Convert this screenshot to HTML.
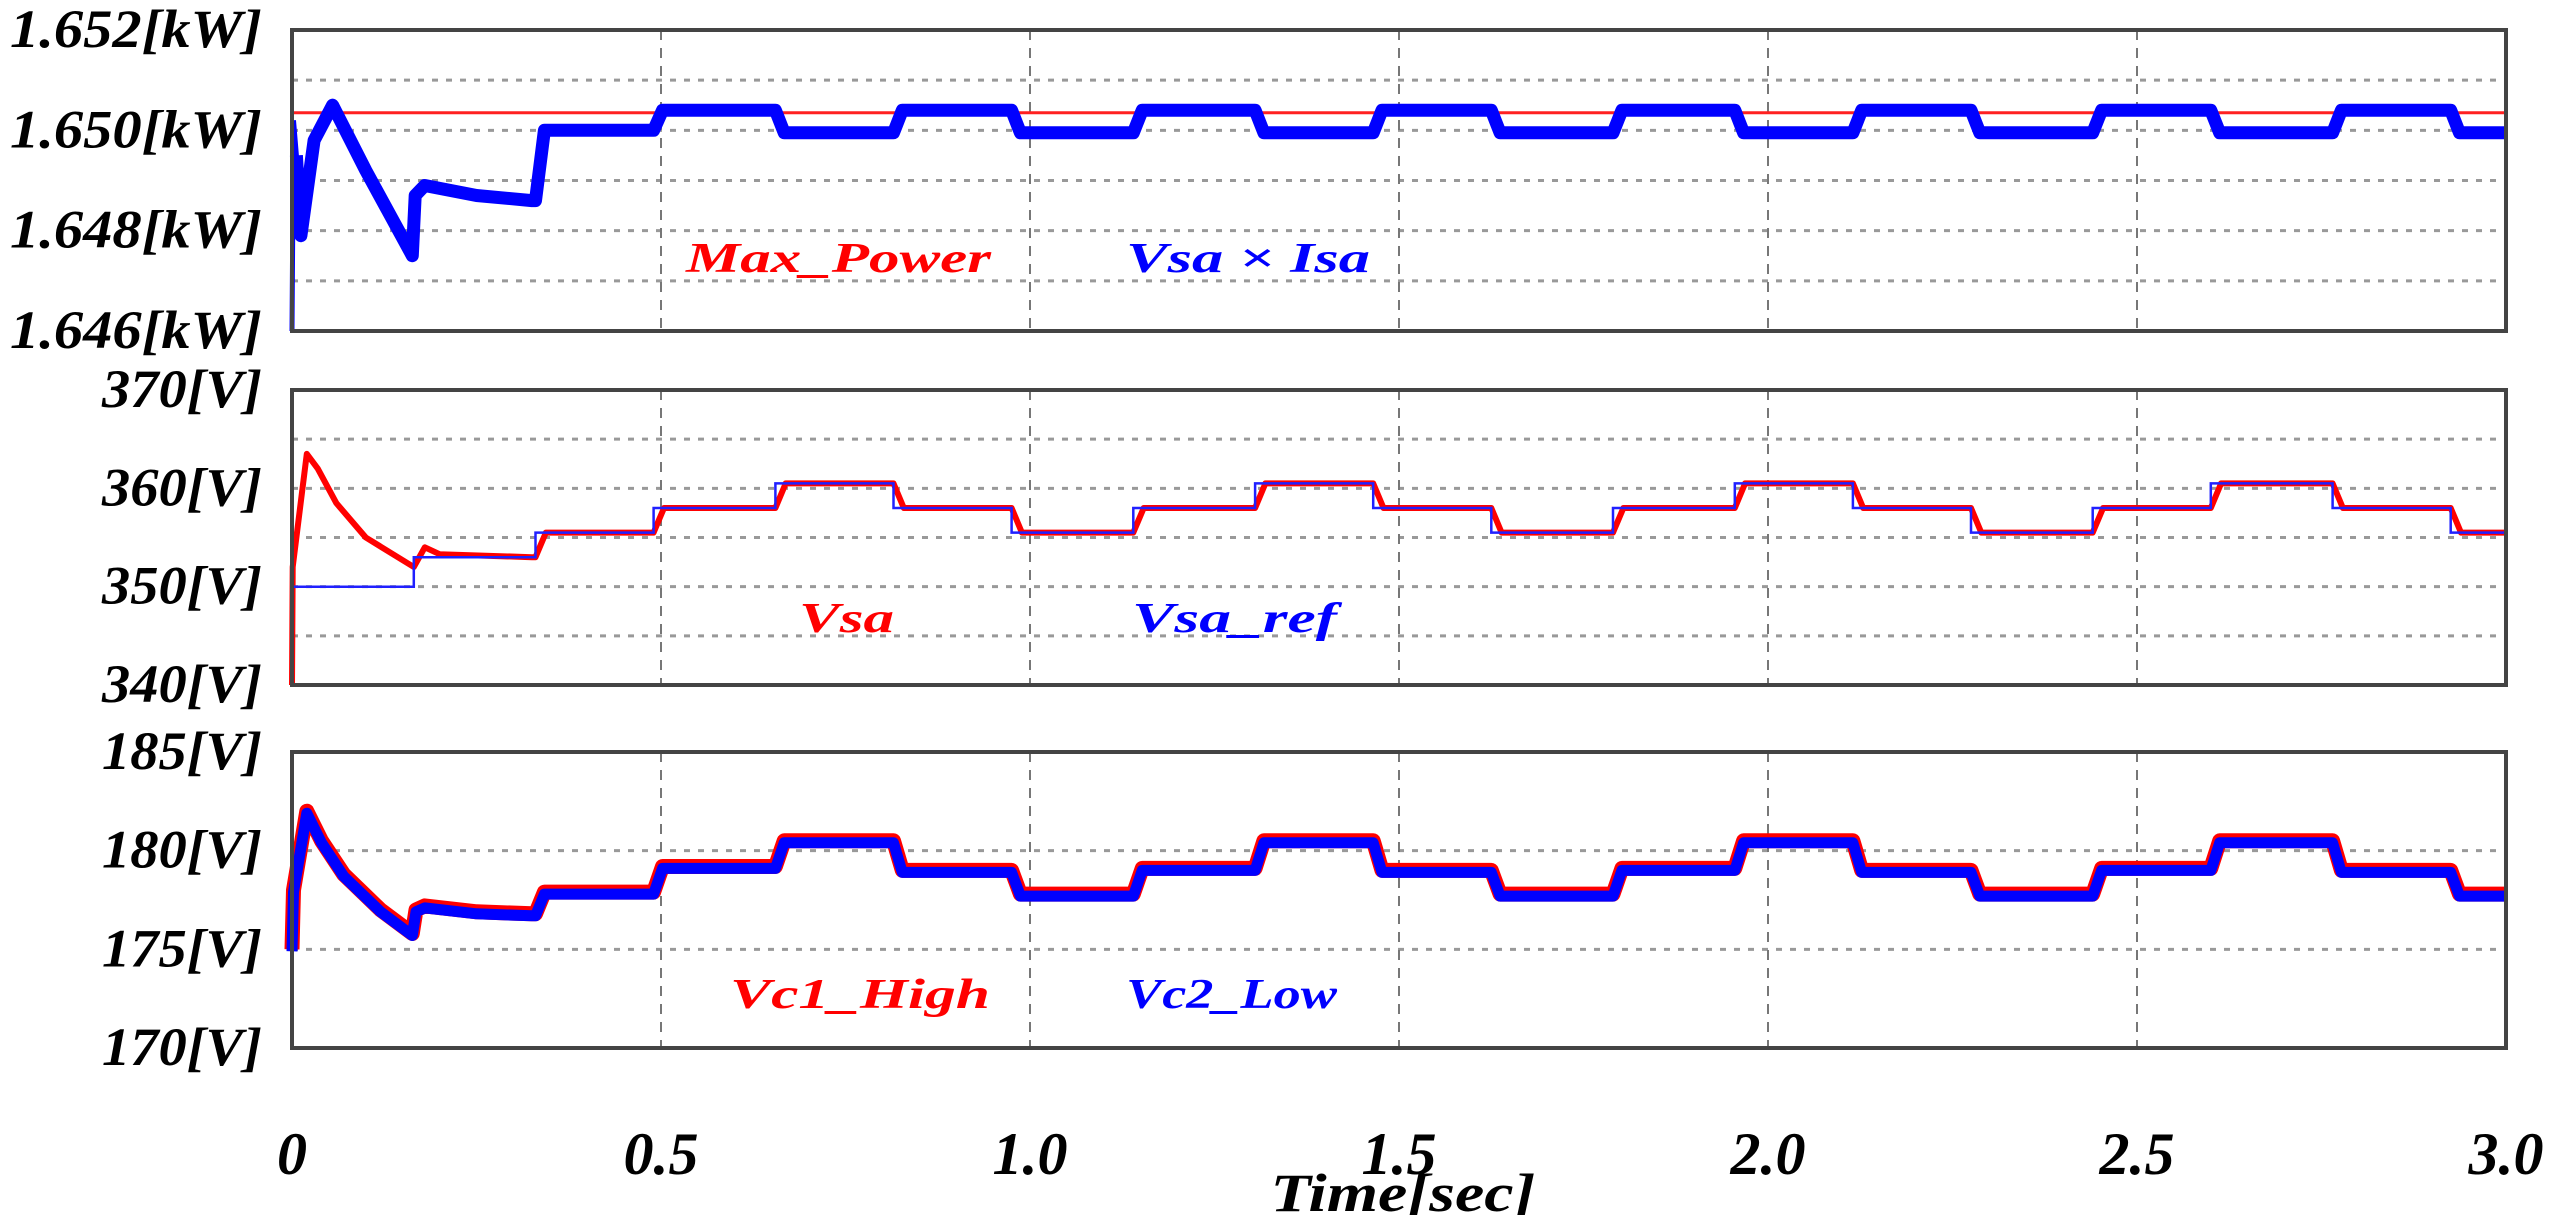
<!DOCTYPE html>
<html><head><meta charset="utf-8"><style>
html,body{margin:0;padding:0;background:#fff;}
svg{display:block;}
.tk{font-family:"Liberation Serif",serif;font-weight:bold;font-style:italic;fill:#000;}
.lg{font-family:"Liberation Serif",serif;font-weight:bold;font-style:italic;}
</style></head><body>
<svg id="chart" width="2560" height="1215" viewBox="0 0 2560 1215" xmlns="http://www.w3.org/2000/svg">
<g id="grid"></g><g id="series"></g><g id="frames"></g><g id="labels"></g>
</svg>
<script>
// ---- data ----
const xTicks = [0, 0.5, 1.0, 1.5, 2.0, 2.5, 3.0];
const xTickLabels = ["0", "0.5", "1.0", "1.5", "2.0", "2.5", "3.0"];
const stepTimes = [0.33, 0.49, 0.655, 0.815, 0.975, 1.14, 1.305, 1.465, 1.625, 1.79, 1.955, 2.115, 2.275, 2.44, 2.6, 2.765, 2.925];
// panel 1 (power, kW)
const p1Ticks = [1.646, 1.648, 1.650, 1.652];
const p1TickLabels = ["1.646[kW]", "1.648[kW]", "1.650[kW]", "1.652[kW]"];
const maxPower = 1.65035;
const p1TransT = [0, 0.002, 0.006, 0.012, 0.03, 0.055, 0.1, 0.163, 0.167, 0.18, 0.25, 0.325];
const p1TransV = [1.646, 1.6502, 1.6495, 1.6479, 1.6498, 1.6505, 1.6492, 1.6475, 1.6487, 1.6489, 1.6487, 1.6486];
const p1Levels = [1.6500, 1.6504, 1.64995, 1.6504, 1.64995, 1.6504, 1.64995, 1.6504, 1.64995, 1.6504, 1.64995, 1.6504, 1.64995, 1.6504, 1.64995, 1.6504, 1.64995];
// panel 2 (Vsa, V)
const p2Ticks = [340, 350, 360, 370];
const p2TickLabels = ["340[V]", "350[V]", "360[V]", "370[V]"];
const refTimes = [0, 0.165, 0.33, 0.49, 0.655, 0.815, 0.975, 1.14, 1.305, 1.465, 1.625, 1.79, 1.955, 2.115, 2.275, 2.44, 2.6, 2.765, 2.925];
const refLevels = [350, 353, 355.5, 358, 360.5, 358, 355.5, 358, 360.5, 358, 355.5, 358, 360.5, 358, 355.5, 358, 360.5, 358, 355.5];
const vsaTransT = [0, 0.001, 0.02, 0.035, 0.06, 0.1, 0.165, 0.18, 0.2, 0.325];
const vsaTransV = [340, 352, 363.5, 362, 358.5, 355, 352, 354, 353.3, 353];
const vsaLevels = [355.5, 358, 360.5, 358, 355.5, 358, 360.5, 358, 355.5, 358, 360.5, 358, 355.5, 358, 360.5, 358, 355.5];
// panel 3 (capacitor voltages, V)
const p3Ticks = [170, 175, 180, 185];
const p3TickLabels = ["170[V]", "175[V]", "180[V]", "185[V]"];
const p3TransT = [0, 0.002, 0.02, 0.04, 0.07, 0.12, 0.163, 0.168, 0.18, 0.25, 0.325];
const p3TransV = [175, 178, 182, 180.5, 178.8, 177, 175.8, 177, 177.2, 176.9, 176.8];
const vc1Levels = [177.9, 179.2, 180.5, 179.0, 177.8, 179.1, 180.5, 179.0, 177.8, 179.1, 180.5, 179.0, 177.8, 179.1, 180.5, 179.0, 177.8];
const vc2Levels = [177.8, 179.1, 180.4, 178.9, 177.7, 179.0, 180.4, 178.9, 177.7, 179.0, 180.4, 178.9, 177.7, 179.0, 180.4, 178.9, 177.7];

// ---- layout ----
const X0 = 292, X1 = 2506;
const panels = [
  {name:'power-panel', top:30, bot:331, min:1.646, max:1.652, hgrid:[1.647,1.648,1.649,1.650,1.651]},
  {name:'vsa-panel', top:390, bot:685, min:340, max:370, hgrid:[345,350,355,360,365]},
  {name:'capacitor-panel', top:752, bot:1048, min:170, max:185, hgrid:[175,180]}
];
const NS = 'http://www.w3.org/2000/svg';
const xs = t => X0 + (t / 3.0) * (X1 - X0);
const ysFor = p => v => p.bot - (v - p.min) / (p.max - p.min) * (p.bot - p.top);
function mk(tag, attrs, parent){ const e = document.createElementNS(NS, tag); for (const k in attrs) e.setAttribute(k, attrs[k]); parent.appendChild(e); return e; }
const gGrid = document.getElementById('grid'), gSer = document.getElementById('series'), gFr = document.getElementById('frames'), gLab = document.getElementById('labels');

function buildSeries(transT, transV, levels, lag){
  const pts = [];
  for (let i = 0; i < transT.length; i++) pts.push([transT[i], transV[i]]);
  let prev = transV[transV.length - 1];
  for (let i = 0; i < stepTimes.length; i++){
    const t = stepTimes[i];
    pts.push([t, prev]);
    pts.push([t + lag, levels[i]]);
    const end = i + 1 < stepTimes.length ? stepTimes[i + 1] : 3.0;
    pts.push([end, levels[i]]);
    prev = levels[i];
  }
  return pts;
}
function path(pts, ys){ return pts.map((p, i) => (i ? 'L' : 'M') + xs(p[0]).toFixed(1) + ' ' + ys(p[1]).toFixed(1)).join(' '); }

panels.forEach((p, pi) => {
  const ys = ysFor(p);
  p.hgrid.forEach(v => {
    const l = mk('line', {x1:X0, x2:X1, y1:ys(v), y2:ys(v), stroke:'#999', 'stroke-width':3, 'stroke-dasharray':'6 8'}, gGrid);
    
    
  });
  xTicks.slice(1, -1).forEach(t => {
    const l = mk('line', {x1:xs(t), x2:xs(t), y1:p.top, y2:p.bot, stroke:'#777', 'stroke-width':2, 'stroke-dasharray':'10 8'}, gGrid);
    
    
  });
  const r = mk('rect', {x:X0, y:p.top, width:X1 - X0, height:p.bot - p.top, fill:'none', stroke:'#444', 'stroke-width':4}, gFr);
  
  
});

// panel 1
(function(){
  const p = panels[0], ys = ysFor(p);
  const red = mk('line', {x1:X0, x2:X1, y1:ys(maxPower), y2:ys(maxPower), stroke:'#ff2020', 'stroke-width':3}, gSer);
  
  
  const pts = buildSeries(p1TransT, p1TransV, p1Levels, 0.012);
  const b = mk('path', {d:path(pts.slice(2), ys), fill:'none', stroke:'#0000ff', 'stroke-width':13, 'stroke-linejoin':'round'}, gSer);
  
  
  const b2 = mk('path', {d:path(pts.slice(0, 4), ys), fill:'none', stroke:'#0000ff', 'stroke-width':5}, gSer);
  
  
})();
// panel 2
(function(){
  const p = panels[1], ys = ysFor(p);
  const vpts = buildSeries(vsaTransT, vsaTransV, vsaLevels, 0.014);
  const rr = mk('path', {d:path(vpts, ys), fill:'none', stroke:'#ff0000', 'stroke-width':6, 'stroke-linejoin':'round'}, gSer);
  
  
  const rp = [];
  for (let i = 0; i < refTimes.length; i++){
    const end = i + 1 < refTimes.length ? refTimes[i + 1] : 3.0;
    rp.push([refTimes[i], refLevels[i]]); rp.push([end, refLevels[i]]);
  }
  const bb = mk('path', {d:path(rp, ys), fill:'none', stroke:'#2020ff', 'stroke-width':2.5}, gSer);
  
  
})();
// panel 3
(function(){
  const p = panels[2], ys = ysFor(p);
  const r = mk('path', {d:path(buildSeries(p3TransT, p3TransV, vc1Levels, 0.012), ys), fill:'none', stroke:'#ff0000', 'stroke-width':15, 'stroke-linejoin':'round'}, gSer);
  
  
  const b = mk('path', {d:path(buildSeries(p3TransT, p3TransV.map(v => v - 0.1), vc2Levels, 0.012), ys), fill:'none', stroke:'#0000ff', 'stroke-width':11, 'stroke-linejoin':'round'}, gSer);
  
  
})();

// y tick labels
[[p1Ticks, p1TickLabels, 0, 252], [p2Ticks, p2TickLabels, 1, 160], [p3Ticks, p3TickLabels, 2, 160]].forEach(([tk, lb, pi, w]) => {
  const p = panels[pi], ys = ysFor(p);
  tk.forEach((v, i) => {
    const t = mk('text', {x:262 - w, y:ys(v) + 17, 'font-size':54, class:'tk', textLength:w, lengthAdjust:'spacingAndGlyphs'}, gLab);
    t.textContent = lb[i];
    
    
  });
});
// x tick labels
xTicks.forEach((v, i) => {
  const t = mk('text', {x:xs(v), y:1174, 'text-anchor':'middle', 'font-size':60, class:'tk'}, gLab);
  t.textContent = xTickLabels[i];
  
  
});
</script>
<script>
(function(){
  const NS = 'http://www.w3.org/2000/svg', g = document.getElementById('labels');
  const items = [
    ['Time[sec]', 1403, 1211, 54, '#000', 'x-axis-title', 265],
    ['Max_Power', 686, 272, 42, '#ff0000', 'legend-max-power', 305],
    ['Vsa \u00d7 Isa', 1126, 272, 42, '#0000ff', 'legend-vsa-isa', 244],
    ['Vsa', 799, 632, 42, '#ff0000', 'legend-vsa', 95],
    ['Vsa_ref', 1132, 632, 42, '#0000ff', 'legend-vsa-ref', 205],
    ['Vc1_High', 730, 1008, 42, '#ff0000', 'legend-vc1-high', 260],
    ['Vc2_Low', 1126, 1008, 42, '#0000ff', 'legend-vc2-low', 211]
  ];
  items.forEach(it => {
    const t = document.createElementNS(NS, 'text');
    t.setAttribute('x', it[1]); t.setAttribute('y', it[2]);
    t.setAttribute('font-size', it[3]); t.setAttribute('fill', it[4]);
    t.setAttribute('class', 'lg');
    t.setAttribute('textLength', it[6]); t.setAttribute('lengthAdjust', 'spacingAndGlyphs');
    if (it[5] === 'x-axis-title') t.setAttribute('text-anchor', 'middle');
    t.textContent = it[0];
    
    
    g.appendChild(t);
  });
})();
</script>
</body></html>
